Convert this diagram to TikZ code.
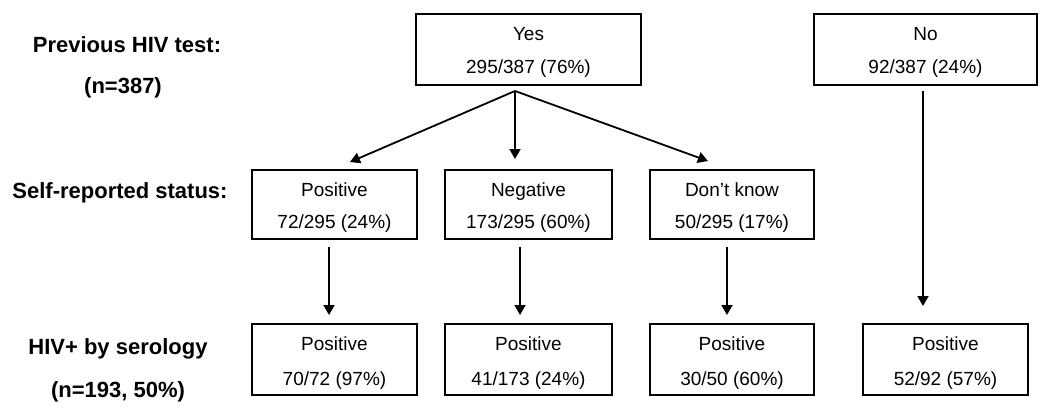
\documentclass[tikz,border=0pt]{standalone}
\usepackage{fontspec}
\setmainfont{Liberation Sans}
\usetikzlibrary{arrows.meta}
\begin{document}
\begin{tikzpicture}[x=1pt,y=-1pt,
  box/.style={draw=black,line width=1.3pt,minimum width=#1,minimum height=71pt,inner sep=0pt,anchor=center},
  txt/.style={anchor=base,inner sep=0pt,font=\fontsize{19}{19}\selectfont},
  lbl/.style={anchor=base,inner sep=0pt,font=\fontsize{22}{22}\selectfont\bfseries},
  arr/.style={line width=1.8pt,-{Triangle[width=11pt,length=10pt]}}]
\path[use as bounding box] (0,0) rectangle (1050,412);
% left labels
\node[lbl] (l1) at (127,53) {Previous HIV test:};
\node[lbl] (l2) at (123,94) {(n=387)};
\node[lbl] (l3) at (120,198) {Self-reported status:};
\node[lbl] (l4) at (118,354) {HIV+ by serology};
\node[lbl] (l5) at (118,397) {(n=193, 50\%)};
% top row
\node[box=225pt] (yes) at (528.5,49.5) {};
\node[txt] (yes1) at (528.5,40.5) {Yes};
\node[txt] (yes2) at (528.5,73.5) {295/387 (76\%)};
\node[box=223pt] (no) at (925.5,49.5) {};
\node[txt] (no1) at (925.5,40.5) {No};
\node[txt] (no2) at (925.5,73.5) {92/387 (24\%)};
% middle row
\node[box=165pt,minimum height=69pt] (pos) at (334.5,204.5) {};
\node[txt] (pos1) at (334.5,196) {Positive};
\node[txt] (pos2) at (334.5,228) {72/295 (24\%)};
\node[box=167pt,minimum height=69pt] (neg) at (528.5,204.5) {};
\node[txt] (neg1) at (528.5,196) {Negative};
\node[txt] (neg2) at (528.5,228) {173/295 (60\%)};
\node[box=164pt,minimum height=69pt] (dk) at (732,204.5) {};
\node[txt] (dk1) at (732,196) {Don’t know};
\node[txt] (dk2) at (732,228) {50/295 (17\%)};
% bottom row
\node[box=165pt] (bpos) at (334.5,359.5) {};
\node[txt] (bpos1) at (334.5,350) {Positive};
\node[txt] (bpos2) at (334.5,385) {70/72 (97\%)};
\node[box=167pt] (bneg) at (528.5,359.5) {};
\node[txt] (bneg1) at (528.5,350) {Positive};
\node[txt] (bneg2) at (528.5,385) {41/173 (24\%)};
\node[box=164pt] (bdk) at (732,359.5) {};
\node[txt] (bdk1) at (732,350) {Positive};
\node[txt] (bdk2) at (732,385) {30/50 (60\%)};
\node[box=165pt] (bno) at (945.5,359.5) {};
\node[txt] (bno1) at (945.5,350) {Positive};
\node[txt] (bno2) at (945.5,385) {52/92 (57\%)};
% connector coordinates
\coordinate (apex) at (515,91);
\coordinate (tipL) at (350,162);
\coordinate (tipM) at (515,159);
\coordinate (tipR) at (708,161);
\coordinate (sP) at (329,247);  \coordinate (eP) at (329,315);
\coordinate (sN) at (520,247);  \coordinate (eN) at (520,315);
\coordinate (sD) at (727,247);  \coordinate (eD) at (727,315);
\coordinate (sNo) at (923,91);  \coordinate (eNo) at (923,306);
% connectors
\draw[arr] (apex) -- (tipL);
\draw[arr] (apex) -- (tipM);
\draw[arr] (apex) -- (tipR);
\draw[arr] (sP) -- (eP);
\draw[arr] (sN) -- (eN);
\draw[arr] (sD) -- (eD);
\draw[arr] (sNo) -- (eNo);
\end{tikzpicture}
\end{document}
